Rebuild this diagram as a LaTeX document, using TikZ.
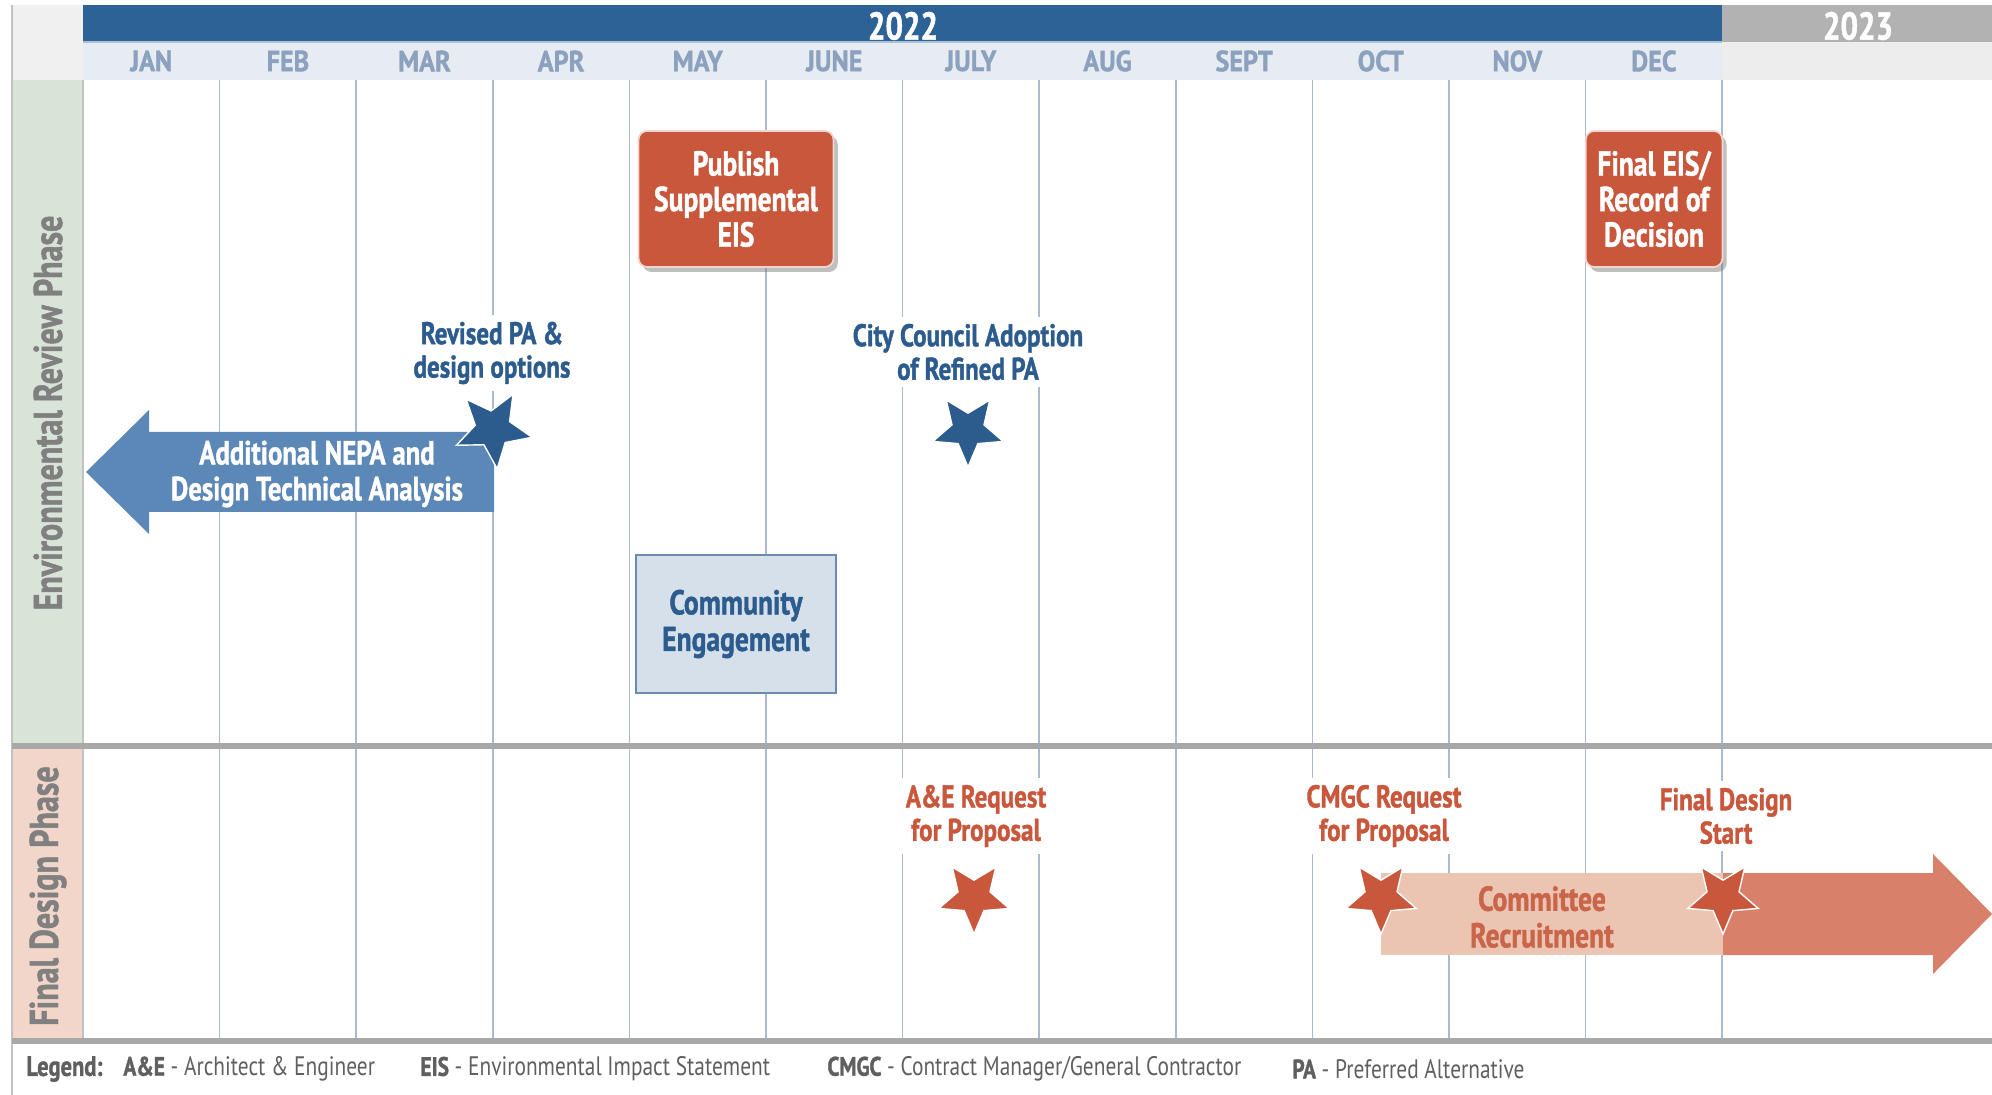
\documentclass[tikz,border=0pt]{standalone}
\usepackage{fontspec}
\setmainfont{PT Sans}[FakeStretch=0.8, BoldFeatures={FakeBold=1.2}]
\usetikzlibrary{shapes.geometric,shadows}

\definecolor{hdrblue}{HTML}{2D6296}
\definecolor{hdrgray}{HTML}{B2B2B2}
\definecolor{monthbg}{HTML}{E6ECF2}
\definecolor{monthbgb}{HTML}{EDEDED}
\definecolor{cornerbg}{HTML}{F0F0F0}
\definecolor{monthtxt}{HTML}{8CA1BE}
\definecolor{gridcol}{HTML}{A9BCCF}
\definecolor{envbg}{HTML}{D9E4D8}
\definecolor{finbg}{HTML}{F3D6CA}
\definecolor{phasegray}{HTML}{808080}
\definecolor{sepgray}{HTML}{A8A8A8}
\definecolor{mileorange}{HTML}{C9573C}
\definecolor{navy}{HTML}{2C5C8D}
\definecolor{arrowblue}{HTML}{5B88B6}
\definecolor{commfill}{HTML}{D6E0EB}
\definecolor{commdraw}{HTML}{6A8AAF}
\definecolor{salmonlight}{HTML}{ECC4B2}
\definecolor{salmondark}{HTML}{D9806A}
\definecolor{recruittxt}{HTML}{C8654A}
\definecolor{legendgray}{HTML}{5F5F5F}

\tikzset{
  year/.style={text=white, font=\bfseries\fontsize{11}{12}\selectfont},
  month/.style={text=monthtxt, font=\bfseries\fontsize{8.3}{10}\selectfont\addfontfeature{FakeStretch=0.9}},
  gridline/.style={draw=gridcol, line width=0.15mm},
  sepline/.style={draw=sepgray, line width=0.6mm},
  phase/.style={rotate=90, text=phasegray, font=\bfseries\fontsize{11.4}{12}\selectfont},
  milebox/.style={rounded corners=2.5pt, fill=mileorange, draw=mileorange!25, line width=0.5pt,
    text=white, align=center, font=\bfseries\fontsize{9.8}{10.1}\selectfont,
    drop shadow={shadow xshift=1.2pt, shadow yshift=-1.4pt, opacity=0.5}},
  bluelabel/.style={text=navy, fill=white, align=center, inner sep=2pt,
    font=\bfseries\fontsize{8.9}{9.5}\selectfont},
  redlabel/.style={bluelabel, text=mileorange},
  milestar/.style={star, star points=5, star point ratio=2.2, shape border rotate=180,
    minimum size=0.74cm, inner sep=0pt, draw=white, line width=0.4pt},
  legend/.style={anchor=west, text=legendgray, font=\fontsize{7.6}{9}\selectfont}
}

\begin{document}
\begin{tikzpicture}[x=0.01cm, y=-0.01cm]
\useasboundingbox (0,0) rectangle (1992,1095);

% header
\fill[hdrblue] (83,5) rectangle (1722,42);
\fill[hdrgray] (1722,5) rectangle (1992,42);
\fill[monthbg] (83,42) rectangle (1722,80);
\fill[monthbgb] (1722,42) rectangle (1992,80);
\fill[cornerbg] (12,5) rectangle (83,80);
\draw[hdrblue!40, line width=0.2mm] (83,42) -- (1722,42);
\node[year] (y2022) at (903,26) {2022};
\node[year] (y2023) at (1858,26) {2023};

% months
\foreach \m [count=\i from 0] in {JAN,FEB,MAR,APR,MAY,JUNE,JULY,AUG,SEPT,OCT,NOV,DEC}
  \node[month] (m\i) at ({83+136.6*(\i+0.5)},61) {\m};
\foreach \k in {1,...,12}
  \draw[gridline] ({83+136.6*\k},80) -- ({83+136.6*\k},1041);

% phases
\fill[envbg] (12,80) rectangle (83,743);
\fill[finbg] (12,749) rectangle (83,1038);
\draw[sepgray!70, line width=0.2mm] (83,80) -- (83,1041);
\draw[sepgray!70, line width=0.2mm] (12,5) -- (12,1095);
\node[phase] (env) at (48,413) {Environmental Review Phase};
\node[phase] (fin) at (48,896) {Final Design Phase};
\draw[sepline] (12,746) -- (1992,746);
\draw[sepline] (12,1041) -- (1992,1041);

% environmental review
\fill[arrowblue] (494,432) -- (149,432) -- (149,410) -- (86,472) -- (149,534)
  -- (149,512) -- (494,512) -- cycle;
\node[text=white, align=center, font=\bfseries\fontsize{9.5}{10.2}\selectfont]
  (nepa) at (317,474) {Additional NEPA and\\Design Technical Analysis};
\node[milebox, minimum width=1.95cm, minimum height=1.36cm] (seis) at (736,199)
  {Publish\\Supplemental\\EIS};
\node[milebox, minimum width=1.31cm, minimum height=1.36cm] (feis) at (1654,199)
  {Final EIS/\\Record of\\Decision};
\node[fill=commfill, draw=commdraw, line width=0.2mm, minimum width=2cm,
  minimum height=1.37cm, text=navy, align=center,
  font=\bfseries\fontsize{9.8}{10.4}\selectfont] (comm) at (736,624)
  {Community\\Engagement};
\node[bluelabel] (revised) at (492,353) {Revised PA \&\\design options};
\node[milestar, fill=navy, minimum size=0.8cm, rotate=6] (srevised) at (493,429) {};
\node[bluelabel] (council) at (968,352) {City Council Adoption\\of Refined PA};
\node[milestar, fill=navy] (scouncil) at (968,430) {};

% final design
\fill[salmonlight] (1381,873) rectangle (1723,955);
\fill[salmondark] (1723,873) -- (1933,873) -- (1933,854) -- (1992,914) -- (1933,974)
  -- (1933,955) -- (1723,955) -- cycle;
\node[text=recruittxt, align=center, font=\bfseries\fontsize{9.8}{10.4}\selectfont]
  (recruit) at (1542,917) {Committee\\Recruitment};
\node[redlabel] (ae) at (976,816) {A\&E Request\\for Proposal};
\node[milestar, fill=mileorange] (sae) at (974,897) {};
\node[redlabel] (cmgc) at (1384,816) {CMGC Request\\for Proposal};
\node[milestar, fill=mileorange] (scmgc) at (1381,897) {};
\node[redlabel] (start) at (1726,816) {Final Design\\Start};
\node[milestar, fill=mileorange] (sstart) at (1723,897) {};

% legend
\node[legend, font=\bfseries\fontsize{8}{9}\selectfont] (leg) at (14,1069) {Legend:};
\node[legend] (lae) at (111,1069) {\textbf{A\&E} - Architect \& Engineer};
\node[legend] (leis) at (408,1069) {\textbf{EIS} - Environmental Impact Statement};
\node[legend] (lcmgc) at (815,1069) {\textbf{CMGC} - Contract Manager/General Contractor};
\node[legend] (lpa) at (1280,1069) {\textbf{PA} - Preferred Alternative};
\end{tikzpicture}
\end{document}
